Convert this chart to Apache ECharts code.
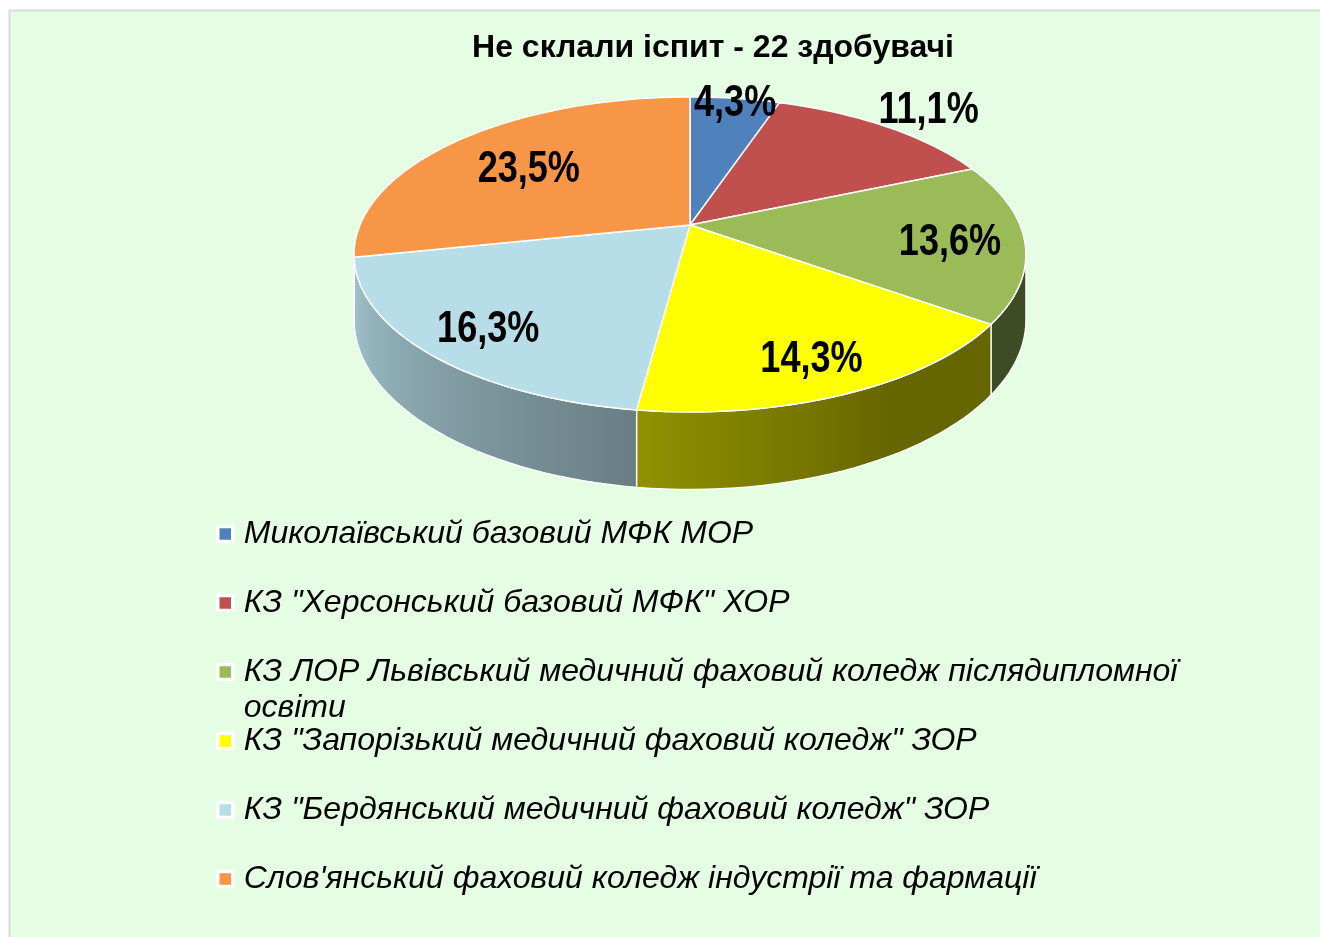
<!DOCTYPE html>
<html>
<head>
<meta charset="utf-8">
<title>Не склали іспит</title>
<script src="https://cdn.jsdelivr.net/npm/echarts@6/dist/echarts.min.js"></script>
<style>
  html, body { margin: 0; padding: 0; background: #fff; }
  #chart { width: 1320px; height: 937px; }
</style>
</head>
<body>
<div id="chart"></div>
<script>
// дані
var chartTitle = 'Не склали іспит - 22 здобувачі';
var categories = [
  'Миколаївський базовий МФК МОР',
  'КЗ "Херсонський базовий МФК" ХОР',
  'КЗ ЛОР Львівський медичний фаховий коледж післядипломної освіти',
  'КЗ "Запорізький медичний фаховий коледж" ЗОР',
  'КЗ "Бердянський медичний фаховий коледж" ЗОР',
  'Слов\'янський фаховий коледж індустрії та фармації'
];
var values = [4.3, 11.1, 13.6, 14.3, 16.3, 23.5];
var colors = ['#4f81bd', '#c0504d', '#9bbb59', '#ffff00', '#b7dde8', '#f79646'];
// відстань підпису від центру (частка радіуса)
var labelRadius = [1.0, 1.25, 0.78, 0.8, 0.8, 0.68];

// геометрія "3D" пирога
var CX = 690, CY = 225, RX = 330, RY = 152, PERSP = 0.187, DEPTH = 63;
var LABEL_DY = 5;

function proj(r, deg, drop) {
  var a = deg * Math.PI / 180;
  var u = r * Math.sin(a), v = r * Math.cos(a);
  var k = 1 + PERSP * v;
  return [CX + RX * u / k, CY + (-RY * v + (drop || 0)) / k];
}

function shade(hex, f) {
  var n = parseInt(hex.slice(1), 16);
  var r = Math.round(((n >> 16) & 255) * f);
  var g = Math.round(((n >> 8) & 255) * f);
  var b = Math.round((n & 255) * f);
  return 'rgb(' + r + ',' + g + ',' + b + ')';
}

function wallFactor(deg) {
  return Math.min(0.92, Math.max(0.4, 0.4 + (deg - 150) * 0.0045));
}

function fmt(v) {
  return v.toFixed(1).replace('.', ',') + '%';
}

var total = values.reduce(function (s, v) { return s + v; }, 0);
// де стінка ховається за краєм верхньої грані
var silhouette = Math.acos(-PERSP) * 180 / Math.PI;

function makeSlice(k) {
  return function (params, api) {
    var val = api.value(0);
    var before = 0;
    for (var i = 0; i < k; i++) before += values[i];
    var start = before / total * 360;
    var end = start + val / total * 360;
    var children = [];

    // бічна стінка (тільки видима частина)
    var w0 = Math.max(start, silhouette), w1 = Math.min(end, 360 - silhouette);
    if (w1 > w0) {
      var n = Math.max(2, Math.ceil((w1 - w0) / 2));
      var top = [], bot = [], stops = [];
      for (var j = 0; j <= n; j++) {
        var a = w0 + (w1 - w0) * j / n;
        top.push(proj(1, a));
        bot.push(proj(1, a, DEPTH));
      }
      var xs = top.map(function (p) { return p[0]; });
      var xmin = Math.min.apply(null, xs), xmax = Math.max.apply(null, xs);
      for (var j2 = 0; j2 <= n; j2++) {
        var a2 = w0 + (w1 - w0) * j2 / n;
        stops.push({
          offset: (xs[j2] - xmin) / Math.max(1, xmax - xmin),
          color: shade(colors[k], wallFactor(a2))
        });
      }
      stops.sort(function (p, q) { return p.offset - q.offset; });
      children.push({
        type: 'polygon',
        z2: 1,
        shape: { points: top.concat(bot.reverse()) },
        style: {
          fill: { type: 'linear', x: xmin, y: 0, x2: xmax, y2: 0, global: true, colorStops: stops },
          stroke: '#ffffff',
          lineWidth: 1.3
        }
      });
    }

    // верхня грань
    var pts = [proj(0, 0)];
    var steps = Math.max(2, Math.ceil((end - start) / 2));
    for (var s = 0; s <= steps; s++) pts.push(proj(1, start + (end - start) * s / steps));
    children.push({
      type: 'polygon',
      z2: 2,
      shape: { points: pts },
      style: { fill: colors[k], stroke: '#ffffff', lineWidth: 1.5, lineJoin: 'round' }
    });

    // підпис (вузький жирний шрифт)
    var lp = proj(labelRadius[k], (start + end) / 2);
    children.push({
      type: 'text',
      z2: 10,
      x: lp[0],
      y: lp[1] + LABEL_DY,
      scaleX: 0.82,
      style: {
        text: fmt(val),
        fill: '#000',
        font: 'bold 44px "Liberation Sans", Arial, sans-serif',
        align: 'center',
        verticalAlign: 'middle'
      }
    });
    return { type: 'group', children: children };
  };
}

// довга назва переноситься; порожній рядок зверху тримає маркер біля першого рядка
function wrapName(name) {
  if (name.length <= 55) return name;
  var cut = name.lastIndexOf(' ');
  return ' \n' + name.slice(0, cut) + '\n' + name.slice(cut + 1);
}

var legendTop0 = 534, legendStep = 69, lineH = 36;

var chart = echarts.init(document.getElementById('chart'));
chart.setOption({
  backgroundColor: '#ffffff',
  animation: false,
  graphic: [
    {
      type: 'rect',
      z: -10,
      shape: { x: 9.5, y: 10.5, width: 1330, height: 950 },
      style: { fill: '#e4fde3', stroke: '#d9d9d9', lineWidth: 2 }
    },
    {
      type: 'text',
      x: 713,
      y: 48,
      style: {
        text: chartTitle,
        fill: '#000',
        font: 'bold 32px "Liberation Sans", Arial, sans-serif',
        align: 'center',
        verticalAlign: 'middle'
      }
    }
  ],
  legend: categories.map(function (name, i) {
    var wrapped = wrapName(name) !== name;
    return {
      data: [name],
      orient: 'vertical',
      left: 216,
      top: legendTop0 + legendStep * i - (wrapped ? lineH * 1.5 : lineH / 2),
      padding: 0,
      icon: 'rect',
      itemWidth: 15,
      itemHeight: 15,
      selectedMode: false,
      itemStyle: { borderColor: '#ffffff', borderWidth: 3.5 },
      formatter: wrapName,
      textStyle: {
        color: '#000',
        fontFamily: '"Liberation Sans", Arial, sans-serif',
        fontStyle: 'italic',
        fontSize: 32,
        lineHeight: lineH,
        padding: [0, 0, 0, 6]
      }
    };
  }),
  series: categories.map(function (name, k) {
    return {
      type: 'custom',
      name: name,
      coordinateSystem: 'none',
      silent: true,
      itemStyle: { color: colors[k] },
      data: [values[k]],
      renderItem: makeSlice(k)
    };
  })
});
</script>
</body>
</html>
